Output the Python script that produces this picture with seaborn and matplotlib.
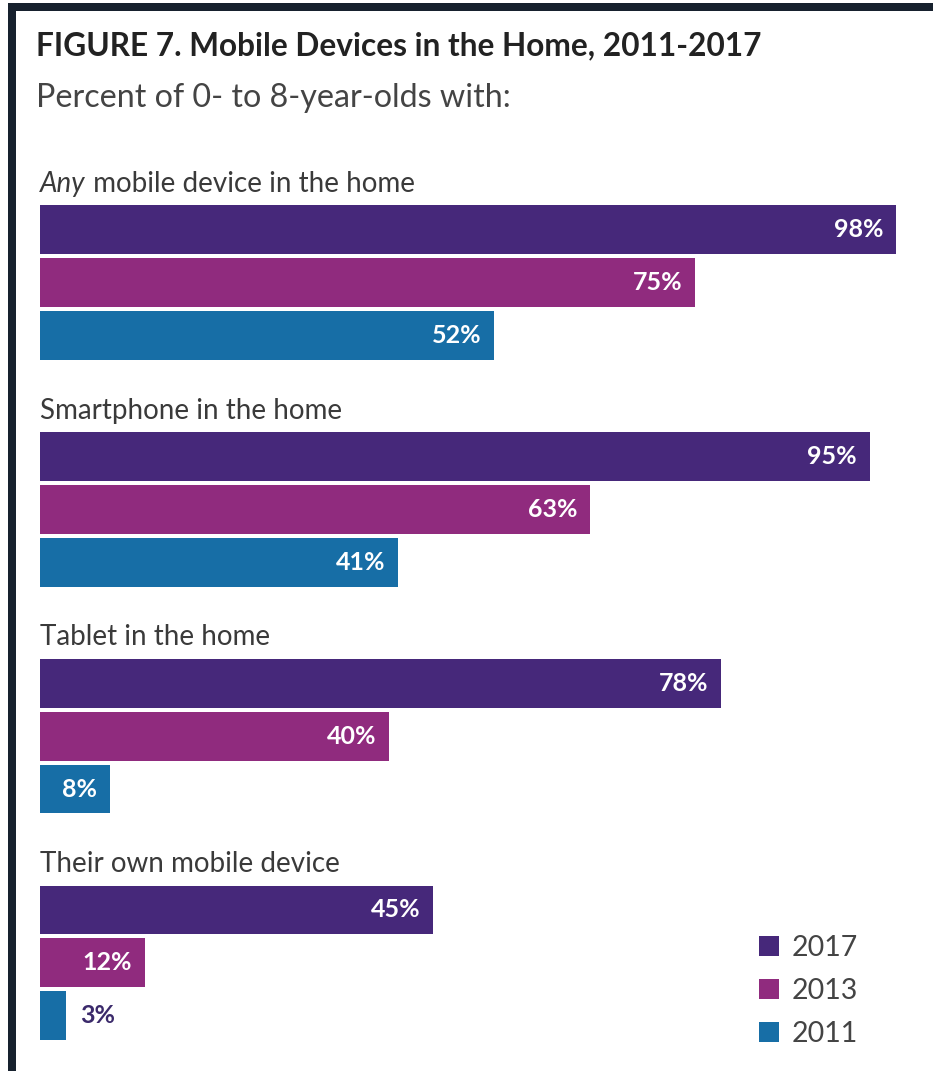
import matplotlib
matplotlib.use("Agg")
import matplotlib.pyplot as plt
import seaborn as sns
import pandas as pd
from matplotlib.patches import Rectangle

# ---- data ----
categories = ["Any mobile device in the home", "Smartphone in the home",
              "Tablet in the home", "Their own mobile device"]
years = ["2017", "2013", "2011"]
values_2017 = [98, 95, 78, 45]
values_2013 = [75, 63, 40, 12]
values_2011 = [52, 41, 8, 3]
colors = {"2017": "#46287a", "2013": "#902b7e", "2011": "#176ea6"}

rows = []
for yr, vals in zip(years, [values_2017, values_2013, values_2011]):
    for c, v in zip(categories, vals):
        rows.append({"category": c, "year": yr, "value": v})
df = pd.DataFrame(rows)

sns.set_theme(style="white")
plt.rcParams["font.family"] = ["Lato", "DejaVu Sans"]

W, H, DPI = 933, 1071, 100
fig = plt.figure(figsize=(W / DPI, H / DPI), dpi=DPI)
fig.patch.set_facecolor("white")
ax = fig.add_axes([0, 0, 1, 1])

sns.barplot(data=df, y="category", x="value", hue="year", order=categories,
            hue_order=years, palette=colors, orient="h", width=0.70, gap=0.075,
            saturation=1, linewidth=0, ax=ax, legend=True)

# pixel mapping: x px = 40 + 8.735*v ; y px = 282.5 + 226.8*i
ax.set_xlim(-40 / 8.735, (W - 40) / 8.735)
ax.set_ylim((H - 282.5) / 226.8, -282.5 / 226.8)
ax.axis("off")

# value labels
for cont in ax.containers:
    for bar in cont:
        v = bar.get_width()
        yc = bar.get_y() + bar.get_height() / 2
        if v < 5:
            ax.annotate(f"{v:.0f}%", xy=(v, yc), xytext=(14, 0),
                        textcoords="offset pixels", ha="left", va="center",
                        fontsize=18, fontweight="bold", color="#3b2a6b")
        else:
            ax.annotate(f"{v:.0f}%", xy=(v, yc), xytext=(-13, 0),
                        textcoords="offset pixels", ha="right", va="center",
                        fontsize=18, fontweight="bold", color="white")

# category headings
head_kw = dict(fontsize=20, color="#3a3a3a")
for i, c in enumerate(categories):
    yh = i - 0.435
    if c.startswith("Any"):
        t1 = ax.text(0, yh, "Any", style="italic", ha="left", va="center", **head_kw)
        ax.annotate(c[3:], xy=(1, 0), xycoords=t1, ha="left", va="bottom", **head_kw)
    else:
        ax.text(0, yh, c, ha="left", va="center", **head_kw)

# title / subtitle
fig.text(36 / W, 1 - 55 / H, "FIGURE 7. Mobile Devices in the Home, 2011-2017",
         fontsize=22.8, fontweight="bold", color="#222222", ha="left", va="baseline")
fig.text(36 / W, 1 - 107 / H, "Percent of 0- to 8-year-olds with:",
         fontsize=23.2, color="#444444", ha="left", va="baseline")

# legend
sns.move_legend(ax, "upper left", bbox_to_anchor=(759 / W, 1 - 935 / H),
                frameon=False, title=None, fontsize=20.5, borderpad=0,
                borderaxespad=0, handlelength=0.7, handleheight=0.7,
                handletextpad=0.45, labelspacing=0.6)
for t in ax.get_legend().get_texts():
    t.set_color("#444444")

# dark frame on top and left
fig.patches.append(Rectangle((8 / W, 0), 8 / W, 1 - 3 / H, transform=fig.transFigure,
                             facecolor="#17212e", edgecolor="none", zorder=10))
fig.patches.append(Rectangle((8 / W, 1 - 11 / H), 1, 8 / H, transform=fig.transFigure,
                             facecolor="#17212e", edgecolor="none", zorder=10))

fig.savefig("out.png", dpi=DPI, facecolor="white")
